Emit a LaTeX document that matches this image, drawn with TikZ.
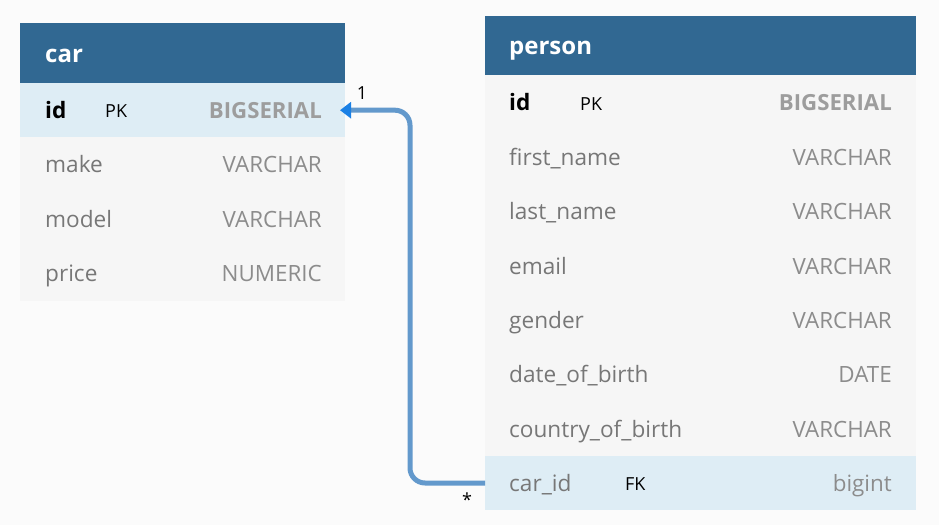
\documentclass[tikz,border=0pt]{standalone}
\usepackage{fontspec}
\setmainfont{Open Sans}
\usetikzlibrary{arrows.meta}
\definecolor{bg}{HTML}{FBFBFB}
\definecolor{hdr}{HTML}{316892}
\definecolor{rowhl}{HTML}{DEEDF5}
\definecolor{rowbg}{HTML}{F6F6F6}
\definecolor{txt}{HTML}{777777}
\definecolor{typ}{HTML}{8C8C8C}
\definecolor{linec}{HTML}{6399CC}
\definecolor{tipc}{HTML}{1A80E5}
\tikzset{
  x=1pt, y=-1pt,
  box/.style={inner sep=0pt, outer sep=0pt, anchor=north west},
  hdrbox/.style={box, fill=hdr},
  rowbox/.style={box, fill=rowbg, minimum height=54.4pt},
  hlbox/.style={box, fill=rowhl, minimum height=54.4pt},
  title/.style={anchor=base west, inner sep=0pt, text=white, font=\fontsize{24}{24}\selectfont\bfseries},
  fname/.style={anchor=base west, inner sep=0pt, text=txt, font=\fontsize{22.6}{22.6}\selectfont},
  kname/.style={anchor=base west, inner sep=0pt, text=black, font=\fontsize{22.6}{22.6}\selectfont\bfseries},
  ftype/.style={anchor=base east, inner sep=0pt, text=typ, font=\fontsize{22.4}{22.4}\selectfont},
  ktype/.style={anchor=base east, inner sep=0pt, text=typ!85, font=\fontsize{22.2}{22.2}\selectfont\bfseries},
  keytag/.style={anchor=base west, inner sep=0pt, text=black, font=\fontsize{18}{18}\selectfont},
  card/.style={inner sep=0pt, text=black, font=\fontsize{18}{18}\selectfont},
  conn/.style={draw=linec, line width=5pt, rounded corners=15pt, -{Triangle[length=11pt,width=16pt,color=tipc]}},
}
\begin{document}
\begin{tikzpicture}
\fill[bg] (0,0) rectangle (939,525);
\useasboundingbox (0,0) rectangle (939,525);
% car table
\node[hdrbox, minimum width=325pt, minimum height=60pt] (carh) at (20,23) {};
\node[hlbox, minimum width=325pt] (carid) at (20,83) {};
\node[rowbox, minimum width=325pt] (carmake) at (20,137.4) {};
\node[rowbox, minimum width=325pt] (carmodel) at (20,191.8) {};
\node[rowbox, minimum width=325pt] (carprice) at (20,246.2) {};
\node[title] (cart) at (45,62) {car};
\node[kname] (c1) at (45,118) {id};
\node[keytag] (c1k) at (105,117) {PK};
\node[ktype] (c1t) at (322,118) {BIGSERIAL};
\node[fname] (c2) at (45,172) {make};
\node[ftype] (c2t) at (322,172) {VARCHAR};
\node[fname] (c3) at (45,227) {model};
\node[ftype] (c3t) at (322,227) {VARCHAR};
\node[fname] (c4) at (45,281) {price};
\node[ftype] (c4t) at (322,281) {NUMERIC};
% person table
\node[hdrbox, minimum width=431pt, minimum height=59pt] (perh) at (485,16) {};
\node[rowbox, minimum width=431pt] (pid) at (485,75) {};
\node[rowbox, minimum width=431pt] (pfirst) at (485,129.4) {};
\node[rowbox, minimum width=431pt] (plast) at (485,183.8) {};
\node[rowbox, minimum width=431pt] (pemail) at (485,238.2) {};
\node[rowbox, minimum width=431pt] (pgender) at (485,292.6) {};
\node[rowbox, minimum width=431pt] (pdob) at (485,347) {};
\node[rowbox, minimum width=431pt] (pcob) at (485,401.4) {};
\node[hlbox, minimum width=431pt] (pcarid) at (485,455.8) {};
\node[title] (pert) at (509,54) {person};
\node[kname] (p1) at (509,110) {id};
\node[keytag] (p1k) at (580,110) {PK};
\node[ktype] (p1t) at (892,110) {BIGSERIAL};
\node[fname] (p2) at (509,165) {first\_name};
\node[ftype] (p2t) at (892,165) {VARCHAR};
\node[fname] (p3) at (509,219) {last\_name};
\node[ftype] (p3t) at (892,219) {VARCHAR};
\node[fname] (p4) at (509,274) {email};
\node[ftype] (p4t) at (892,274) {VARCHAR};
\node[fname] (p5) at (509,328) {gender};
\node[ftype] (p5t) at (892,328) {VARCHAR};
\node[fname] (p6) at (509,382) {date\_of\_birth};
\node[ftype] (p6t) at (892,382) {DATE};
\node[fname] (p7) at (509,437) {country\_of\_birth};
\node[ftype] (p7t) at (892,437) {VARCHAR};
\node[fname] (p8) at (509,491) {car\_id};
\node[keytag] (p8k) at (625,490) {FK};
\node[ftype] (p8t) at (892,491) {bigint};
% connector
\coordinate (bend) at (410,110.2);
\coordinate (tippt) at (340,110.2);
\draw[conn] (pcarid.west) -| (bend) -- (tippt);
\node[card] (one) at (362,93) {1};
\node[card] (many) at (467,500) {*};
\end{tikzpicture}
\end{document}
